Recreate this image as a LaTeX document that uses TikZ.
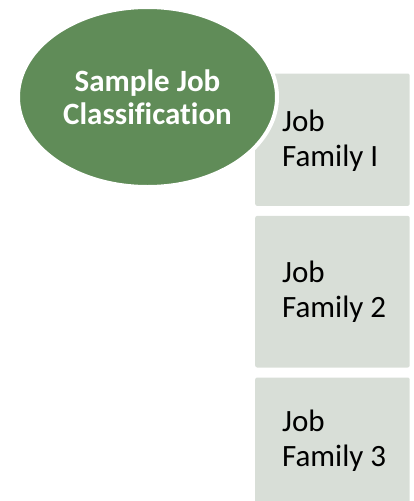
\documentclass[tikz,border=0pt]{standalone}
\usepackage{fontspec}
\setmainfont[Ligatures=NoCommon]{Carlito}
\usetikzlibrary{shapes.geometric}
\definecolor{hubgreen}{HTML}{608C58}
\definecolor{familygray}{HTML}{D8DED7}
\tikzset{
  family/.style={rectangle, rounded corners=2pt, fill=familygray, draw=none,
    anchor=north west, minimum width=154.5pt, inner sep=0pt},
  familytext/.style={anchor=west, inner sep=0pt, align=left,
    font=\fontsize{31}{34.5}\selectfont, text=black},
  hub/.style={ellipse, fill=hubgreen, draw=white, line width=4pt,
    minimum width=259pt, minimum height=180pt, inner sep=0pt, align=center,
    font=\fontsize{31}{33}\selectfont\bfseries, text=white}
}
\begin{document}
\begin{tikzpicture}[x=1pt, y=-1pt]
  \useasboundingbox (0,0) rectangle (414,501);
  \clip (0,0) rectangle (414,501);
  % job family boxes stacked on the right
  \node[family, minimum height=132.4pt] (fam1) at (255,73.3) {};
  \node[family, minimum height=151.6pt] (fam2) at (255,215.7) {};
  \node[family, minimum height=126pt] (fam3) at (255,377.3) {};
  \node[familytext] (lab1) at ([xshift=27pt,yshift=-1pt]fam1.west) {Job\\Family I};
  \node[familytext] (lab2) at ([xshift=27pt]fam2.west) {Job\\Family 2};
  \node[familytext] (lab3) at ([xshift=27pt]fam3.west) {Job\\Family 3};
  % central classification ellipse, overlapping the first box
  \node[hub] (hub) at (147.5,97) {Sample Job\\Classification};
\end{tikzpicture}
\end{document}
